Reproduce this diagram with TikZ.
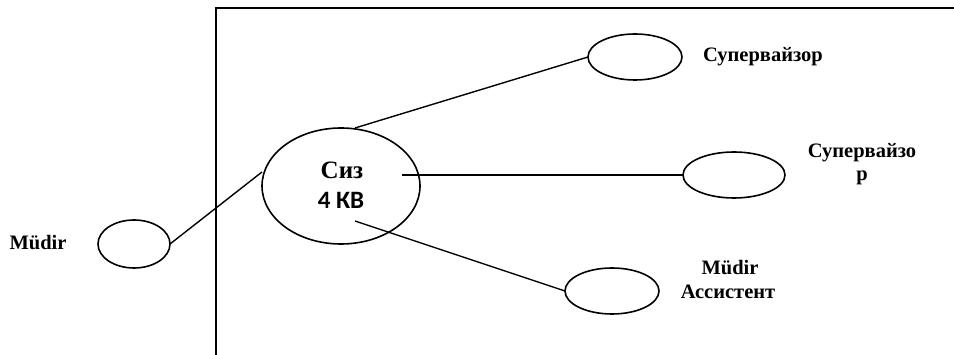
\documentclass[tikz,border=0pt]{standalone}
\usetikzlibrary{shapes.geometric}
\usepackage{fontspec}
\setmainfont{Liberation Serif}
\newfontfamily\kvfont{Carlito}
\begin{document}
\begin{tikzpicture}[x=1pt,y=-1pt,
  role/.style={draw=black,line width=1.6pt,ellipse,inner sep=0pt,outer sep=0pt},
  link/.style={draw=black,line width=1.4pt},
  frameline/.style={draw=black,line width=2.2pt},
  lbl/.style={font=\bfseries\fontsize{20.5}{23}\selectfont,align=center,inner sep=0pt}]
\useasboundingbox (0,0) rectangle (954,355);
% frame
\coordinate (ftl) at (216,8);
\coordinate (ftr) at (960,8);
\coordinate (fbl) at (216,360);
\draw[frameline] (ftr) -- (ftl) -- (fbl);
% ellipses
\node[role,minimum width=158pt,minimum height=116pt] (you) at (341,186) {};
\node[role,minimum width=72pt,minimum height=48pt] (mgr) at (134,244) {};
\node[role,minimum width=94pt,minimum height=46pt] (sup1) at (635,57) {};
\node[role,minimum width=102pt,minimum height=46pt] (sup2) at (734,175) {};
\node[role,minimum width=94pt,minimum height=46pt] (asst) at (612,291) {};
% connector ends inside the central ellipse
\coordinate (y1) at (355,128);
\coordinate (y2) at (402,175);
\coordinate (y3) at (355,221);
\coordinate (y4) at (262,172);
\draw[link] (y1) -- (sup1.west);
\draw[link] (y2) -- (sup2.west);
\draw[link] (y3) -- (asst.west);
\draw[link] (y4) -- (mgr.east);
% labels
\node[inner sep=0pt,font=\bfseries\fontsize{25}{27}\selectfont] (siz) at (342,170) {Сиз};
\node[inner sep=0pt,font=\kvfont\bfseries\fontsize{25}{27}\selectfont] (kv) at (341,200) {4 КВ};
\node[lbl] (tmudir) at (38,243) {Müdir};
\node[lbl] (tsup1) at (763,57) {Супервайзор};
\node[lbl] (tsup2a) at (862,153) {Супервайзо};
\node[lbl] (tsup2b) at (862,178) {р};
\node[lbl] (tas1) at (730,268) {Müdir};
\node[lbl] (tas2) at (728,292) {Ассистент};
\end{tikzpicture}
\end{document}
